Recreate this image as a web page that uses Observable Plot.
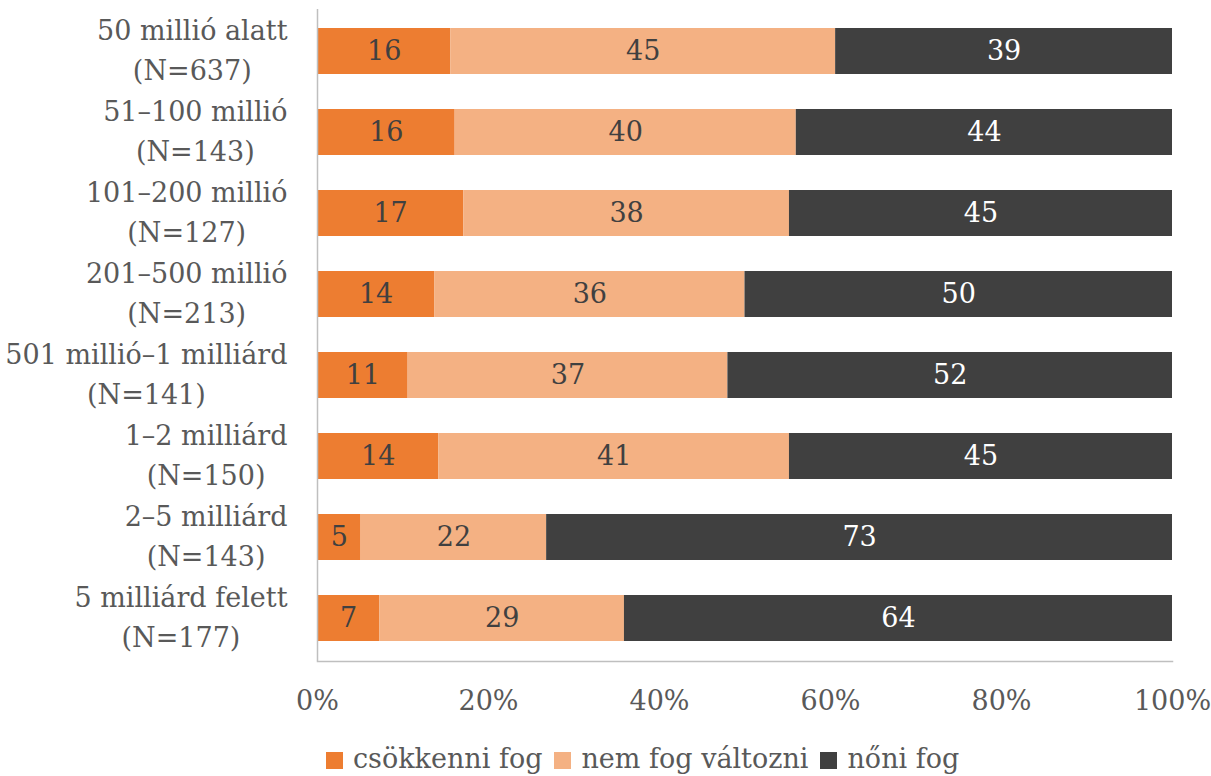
<!DOCTYPE html>
<html>
<head>
<meta charset="utf-8">
<script src="https://cdn.jsdelivr.net/npm/d3@7"></script>
<script src="https://cdn.jsdelivr.net/npm/@observablehq/plot@0.6"></script>
<style>
  html, body { margin: 0; padding: 0; background: #fff; }
  #chart { width: 1211px; }
  .legend { display: flex; align-items: center; padding-left: 326px; height: 52px;
    font-family: "DejaVu Serif", serif; font-size: 27px; color: #595959; }
  .legend .sw { width: 17px; height: 17px; display: inline-block; margin-right: 10px; margin-top: 4px; }
  .legend .it { display: flex; align-items: center; margin-right: 12px; }
</style>
</head>
<body>
<div id="chart"></div>
<script>
const categories = [
  "50 millió alatt\n(N=637)",
  "51–100 millió\n(N=143)",
  "101–200 millió\n(N=127)",
  "201–500 millió\n(N=213)",
  "501 millió–1 milliárd\n(N=141)",
  "1–2 milliárd\n(N=150)",
  "2–5 milliárd\n(N=143)",
  "5 milliárd felett\n(N=177)"
];
const seriesNames = ["csökkenni fog", "nem fog változni", "nőni fog"];
const csokkenni = [15.6, 16.1, 17.1, 13.7, 10.6, 14.2, 5.1, 7.3];
const nemValtozik = [45.0, 39.9, 38.1, 36.3, 37.4, 41.0, 21.7, 28.6];
const noni = [39.4, 44.0, 44.8, 50.0, 52.0, 44.8, 73.2, 64.1];
const colors = ["#ED7D31", "#F4B183", "#404040"];
const xTicks = [0, 20, 40, 60, 80, 100];

const seriesValues = [csokkenni, nemValtozik, noni];
const data = [];
categories.forEach((c, i) => {
  seriesNames.forEach((s, j) => data.push({cat: c, series: s, value: seriesValues[j][i]}));
});

const FONT = "DejaVu Serif";
const chart = Plot.plot({
  width: 1211,
  height: 732,
  marginLeft: 317,
  marginRight: 39,
  marginTop: 9,
  marginBottom: 71,
  style: {fontFamily: FONT, fontSize: "27px", color: "#595959", background: "white"},
  x: {domain: [0, 100], ticks: xTicks},
  y: {domain: categories, paddingInner: 0.43, paddingOuter: 0.215},
  color: {domain: seriesNames, range: colors},
  marks: [
    Plot.barX(data, Plot.stackX({x: "value", y: "cat", fill: "series", order: seriesNames})),
    Plot.text(data, Plot.stackX({
      x: "value", y: "cat", z: "series", order: seriesNames,
      text: d => String(Math.round(d.value)),
      fill: d => d.series === "nőni fog" ? "white" : "#404040",
      fontSize: 27, fontFamily: FONT
    })),
    Plot.ruleX([0], {stroke: "#bfbfbf", strokeWidth: 1.5}),
    Plot.frame({anchor: "bottom", stroke: "#bfbfbf", strokeWidth: 1.5}),
    Plot.axisX({ticks: xTicks, tickFormat: d => d + "%", tickSize: 0, tickPadding: 29, label: null, fill: "#595959"}),
    Plot.axisY({tickSize: 0, tickPadding: 30, label: null, lineHeight: 1.45, dy: -4, fill: "#595959"})
  ]
});
document.getElementById("chart").appendChild(chart);

// center the lines of each y-axis label within its right-aligned block
chart.querySelectorAll('g[aria-label="y-axis tick label"] text').forEach(t => {
  const spans = t.querySelectorAll("tspan");
  let w = 0;
  spans.forEach(s => { w = Math.max(w, s.getComputedTextLength()); });
  if (!spans.length) w = t.getComputedTextLength();
  t.setAttribute("text-anchor", "middle");
  spans.forEach(s => s.setAttribute("x", -w / 2));
  if (!spans.length) t.setAttribute("x", -w / 2);
});

// legend
const legend = document.createElement("div");
legend.className = "legend";
seriesNames.forEach((s, i) => {
  const it = document.createElement("span");
  it.className = "it";
  const sw = document.createElement("span");
  sw.className = "sw";
  sw.style.background = colors[i];
  it.appendChild(sw);
  it.appendChild(document.createTextNode(s));
  legend.appendChild(it);
});
document.getElementById("chart").appendChild(legend);
</script>
</body>
</html>
